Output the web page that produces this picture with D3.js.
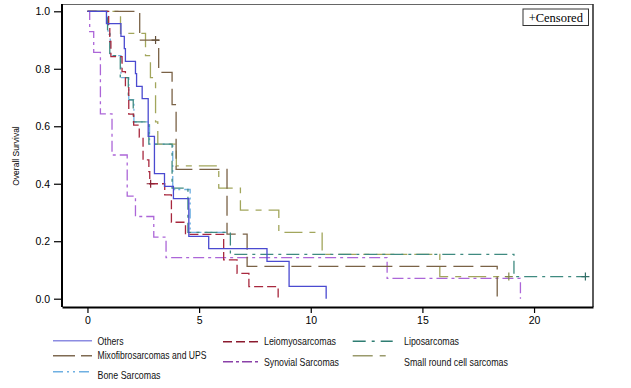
<!DOCTYPE html>
<html><head><meta charset="utf-8">
<script src="https://cdn.jsdelivr.net/npm/d3@7"></script>
<style>body{margin:0;background:#fff}</style>
</head><body>
<svg id="c" width="631" height="388"></svg>
<script>
// ---- data ----
const xTicks = [0, 5, 10, 15, 20];
const yTicks = [0.0, 0.2, 0.4, 0.6, 0.8, 1.0];

const othersT = [0, 0.85, 1.5, 1.65, 1.7, 2.15, 2.2, 2.45, 2.72, 3.0, 3.45, 3.85, 4.54, 5.43, 8.04, 9.03, 10.69];
const othersS = [1, 0.957, 0.913, 0.870, 0.826, 0.783, 0.739, 0.696, 0.565, 0.435, 0.391, 0.348, 0.217, 0.174, 0.130, 0.043, 0];

const leioT = [0, 0.95, 1.0, 1.05, 1.55, 1.7, 1.85, 2.07, 2.32, 2.49, 2.75, 2.79, 3.46, 3.76, 4.39, 6.1, 6.7, 7.23, 8.54];
const leioS = [1, 0.947, 0.895, 0.842, 0.79, 0.737, 0.642, 0.604, 0.562, 0.483, 0.442, 0.40, 0.361, 0.266, 0.224, 0.135, 0.088, 0.042, 0];
const leioCensT = [2.83], leioCensS = [0.40];

const lipoT = [0, 0.9, 1.0, 1.47, 1.83, 2.05, 2.75, 3.79, 4.5, 6.4, 19.1, 22.3];
const lipoS = [1, 0.923, 0.846, 0.769, 0.692, 0.615, 0.538, 0.385, 0.231, 0.154, 0.077, 0.077];
const lipoCensT = [22.3], lipoCensS = [0.077];

const mixoT = [0, 2.34, 3.19, 3.79, 3.97, 6.25, 7.15, 18.35];
const mixoS = [1, 0.9, 0.7875, 0.675, 0.45, 0.225, 0.1125, 0];
const mixoCensT = [3.05], mixoCensS = [0.9];

const synT = [0, 0.1, 0.28, 0.58, 1.1, 1.78, 2.15, 2.97, 3.52, 13.42, 19.39];
const synS = [1, 0.929, 0.857, 0.643, 0.5, 0.357, 0.286, 0.214, 0.143, 0.071, 0];

const srcT = [0, 1.48, 2.6, 2.82, 3.05, 3.15, 3.98, 5.88, 6.85, 8.57, 10.51, 15.78, 18.87];
const srcS = [1, 0.923, 0.846, 0.769, 0.615, 0.538, 0.462, 0.385, 0.308, 0.231, 0.154, 0.077, 0.077];
const srcCensT = [18.87], srcCensS = [0.077];

const boneT = [0, 0.92, 1.02, 1.5, 1.85, 2.08, 2.78, 3.82, 4.6, 6.4];
const boneS = [1, 0.92, 0.846, 0.769, 0.692, 0.615, 0.538, 0.38, 0.231, 0.231];

const seriesNames = ["Others", "Leiomyosarcomas", "Liposarcomas", "Mixofibrosarcomas and UPS",
                     "Synovial Sarcomas", "Small round cell sarcomas", "Bone Sarcomas"];

// ---- styling / layout ----
const series = [
  {name: seriesNames[6], t: boneT, s: boneS, ct: [], cs: [], color: "#6fb0e2", dash: "10,4,2,3,2,4"},
  {name: seriesNames[4], t: synT, s: synS, ct: [], cs: [], color: "#ac66d8", dash: "11,4,3,4"},
  {name: seriesNames[5], t: srcT, s: srcS, ct: srcCensT, cs: srcCensS, color: "#a2a65c", dash: "18,7,6,7"},
  {name: seriesNames[3], t: mixoT, s: mixoS, ct: mixoCensT, cs: mixoCensS, color: "#7a6246", dash: "20,7"},
  {name: seriesNames[2], t: lipoT, s: lipoS, ct: lipoCensT, cs: lipoCensS, color: "#3f8a80", dash: "13,5,3,5"},
  {name: seriesNames[1], t: leioT, s: leioS, ct: leioCensT, cs: leioCensS, color: "#a8283e", dash: "9,4"},
  {name: seriesNames[0], t: othersT, s: othersS, ct: [], cs: [], color: "#4a4ad0", dash: null}
];

const svg = d3.select("#c");
const L = 62, R = 593, T = 4, B = 307;
const x = d3.scaleLinear().domain([-1.14, 22.64]).range([L, R]);
const y = d3.scaleLinear().domain([0, 1]).range([298.7, 11.3]);

// frame
svg.append("line").attr("x1", L).attr("x2", R).attr("y1", T + 0.5).attr("y2", T + 0.5)
  .attr("stroke", "#666").attr("stroke-width", 1);
svg.append("line").attr("x1", R).attr("x2", R).attr("y1", T).attr("y2", B)
  .attr("stroke", "#333").attr("stroke-width", 1.6);

// curves
const line = d3.line().x(d => x(d[0])).y(d => y(d[1])).curve(d3.curveStepAfter);
const g = svg.append("g");
series.forEach(sr => {
  const pts = sr.t.map((t, i) => [t, sr.s[i]]);
  g.append("path").attr("d", line(pts)).attr("fill", "none")
    .attr("stroke", sr.color).attr("stroke-width", 1.3)
    .attr("stroke-dasharray", sr.dash);
  sr.ct.forEach((t, i) => {
    const cx = x(t), cy = y(sr.cs[i]);
    g.append("path").attr("d", `M${cx - 4},${cy}H${cx + 4}M${cx},${cy - 4}V${cy + 4}`)
      .attr("stroke", d3.color(sr.color).darker(0.6)).attr("stroke-width", 1.2);
  });
});

// axes
const fnt = "'Liberation Sans', Arial, sans-serif";
const ax = svg.append("g").attr("transform", `translate(0,${B})`)
  .call(d3.axisBottom(x).tickValues(xTicks).tickSize(6).tickSizeOuter(0).tickPadding(4));
ax.select(".domain").attr("stroke", "#000").attr("stroke-width", 2);
ax.selectAll(".tick line").attr("stroke", "#000").attr("stroke-width", 1.2);
ax.selectAll("text").attr("font-family", fnt).attr("font-size", 10.5).attr("fill", "#000");

const ay = svg.append("g").attr("transform", `translate(${L},0)`)
  .call(d3.axisLeft(y).tickValues(yTicks).tickFormat(d3.format(".1f")).tickSize(8).tickSizeOuter(0).tickPadding(4));
ay.select(".domain").attr("d", `M0,${T}V${B}`).attr("stroke", "#000").attr("stroke-width", 2);
ay.selectAll(".tick line").attr("stroke", "#000").attr("stroke-width", 1.2);
ay.selectAll("text").attr("font-family", fnt).attr("font-size", 10.5).attr("fill", "#000");

svg.append("text").attr("transform", "translate(19,156) rotate(-90)")
  .attr("text-anchor", "middle").attr("font-family", fnt).attr("font-size", 8.5)
  .attr("fill", "#000").text("Overall Survival");

// censored box
svg.append("rect").attr("x", 523).attr("y", 9).attr("width", 65.5).attr("height", 16.5)
  .attr("fill", "#fff").attr("stroke", "#333").attr("stroke-width", 1);
svg.append("text").attr("x", 555.8).attr("y", 21.8).attr("text-anchor", "middle")
  .attr("font-family", "'Liberation Serif', 'Times New Roman', serif").attr("font-size", 12.5)
  .attr("fill", "#000").text("+Censored");

// legend
const legendItems = [
  {name: seriesNames[0], color: "#8c8ce2", dash: null, lx: 53, lw: 39, ly: 340.7, tx: 97.5, ty: 341, tw: 26},
  {name: seriesNames[3], color: "#7f6a52", dash: "22,6,12", lx: 53, lw: 39, ly: 355.7, tx: 97.5, ty: 355.5, tw: 109},
  {name: seriesNames[6], color: "#6fb0e2", dash: "10,4,2,4,2,4", lx: 53, lw: 39, ly: 371.7, tx: 97.5, ty: 375, tw: 63},
  {name: seriesNames[1], color: "#8b1a2e", dash: "9,4", lx: 223, lw: 36, ly: 341.7, tx: 264, ty: 341.7, tw: 72},
  {name: seriesNames[4], color: "#8a40a8", dash: "10,3,3,3", lx: 223, lw: 36, ly: 361.7, tx: 264, ty: 362, tw: 75},
  {name: seriesNames[2], color: "#2e7d72", dash: "13,6,3,6", lx: 352.7, lw: 40, ly: 341.3, tx: 404, ty: 341.7, tw: 55},
  {name: seriesNames[5], color: "#9a9a6c", dash: "20,7,6", lx: 352.7, lw: 33, ly: 355.7, tx: 404, ty: 362.3, tw: 104}
];
const lg = svg.append("g");
legendItems.forEach(it => {
  lg.append("line").attr("x1", it.lx).attr("x2", it.lx + it.lw).attr("y1", it.ly).attr("y2", it.ly)
    .attr("stroke", it.color).attr("stroke-width", 1.5).attr("stroke-dasharray", it.dash);
  lg.append("text").attr("x", it.tx).attr("y", it.ty).attr("dy", "0.35em")
    .attr("font-family", fnt).attr("font-size", 10.5).attr("fill", "#111")
    .attr("textLength", it.tw).attr("lengthAdjust", "spacingAndGlyphs").text(it.name);
});
</script>
</body></html>
